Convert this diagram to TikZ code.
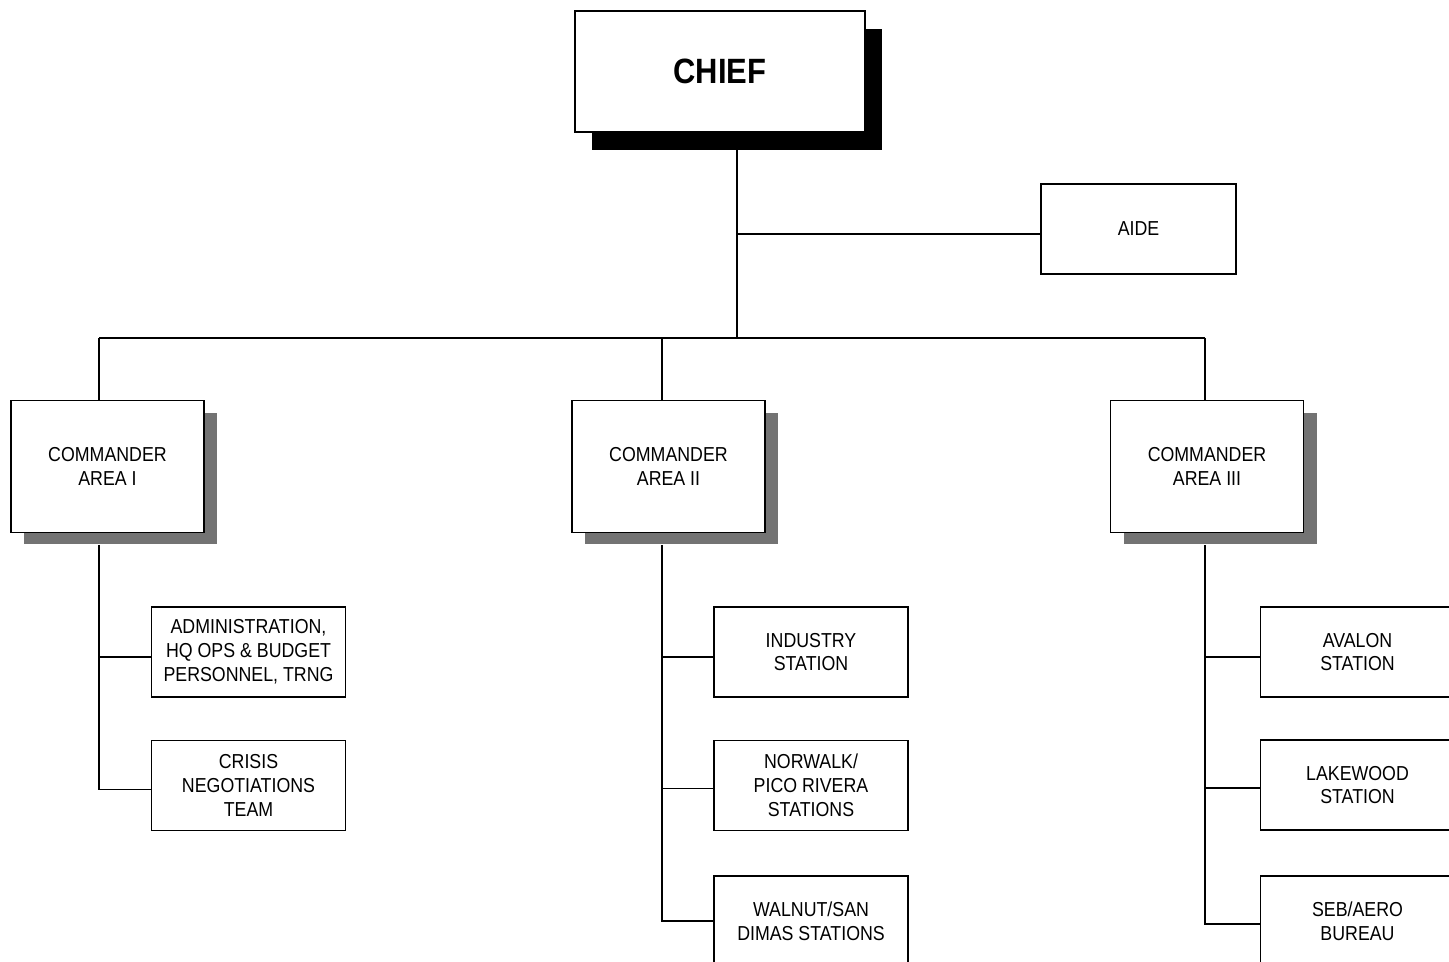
\documentclass[tikz,border=0pt]{standalone}
\usepackage{fontspec}
\newfontfamily\orgfont[FakeStretch=0.88]{Liberation Sans}
\usepackage{tikz}
\usetikzlibrary{calc,positioning}

\begin{document}
\begin{tikzpicture}[x=0.02cm,y=-0.02cm,
		box/.style={draw,line width=1pt,fill=white,inner sep=0pt,align=center,
			font=\orgfont\fontsize{11.5}{13.6}\selectfont},
		cmdbox/.style={box,minimum width=3.86cm,minimum height=2.64cm},
		cmdshade/.style={fill=black!55,minimum width=3.86cm,minimum height=2.64cm,inner sep=0pt},
		unitbox/.style={box,minimum width=3.88cm,minimum height=1.8cm},
		link/.style={line width=0.8pt}]
				\useasboundingbox (0,0) rectangle (1449,962);
				\clip (0,0) rectangle (1449,962);
				\fill[white] (0,0) rectangle (1449,962);
				\node[fill=black,minimum width=5.8cm,minimum height=2.42cm,inner sep=0pt] (chiefsh) at (737,89.5) {};
				\node[box,minimum width=5.8cm,minimum height=2.42cm,font=\orgfont\bfseries\fontsize{20}{24}\selectfont] (chief) at (720,71.5) {CHIEF};
				\node[box,minimum width=3.9cm,minimum height=1.8cm] (aide) at (1138.5,229) {AIDE};
				\coordinate (busL) at (99,338);
				\coordinate (busM) at (662,338);
				\coordinate (busR) at (1205,338);
				\node[cmdshade] (cmdIsh) at (120.5,478.5) {};
				\node[cmdbox] (cmdI) at (107.5,466.5) {COMMANDER\\AREA I};
				\node[cmdshade] (cmdIIsh) at (681.5,478.5) {};
				\node[cmdbox] (cmdII) at (668.5,466.5) {COMMANDER\\AREA II};
				\node[cmdshade] (cmdIIIsh) at (1220,478.5) {};
				\node[cmdbox] (cmdIII) at (1207,466.5) {COMMANDER\\AREA III};
				\node[unitbox] (admin) at (248.5,652) {ADMINISTRATION,\\HQ OPS \& BUDGET\\PERSONNEL, TRNG};
				\node[unitbox] (crisis) at (248.5,785.5) {CRISIS\\NEGOTIATIONS\\TEAM};
				\node[unitbox] (industry) at (811,652) {INDUSTRY\\STATION};
				\node[unitbox] (norwalk) at (811,785.5) {NORWALK/\\PICO RIVERA\\STATIONS};
				\node[unitbox] (walnut) at (811,921) {WALNUT/SAN\\DIMAS STATIONS};
				\node[unitbox] (avalon) at (1357.5,652) {AVALON\\STATION};
				\node[unitbox] (lakewood) at (1357.5,785) {LAKEWOOD\\STATION};
				\node[unitbox] (seb) at (1357.5,921) {SEB/AERO\\BUREAU};
				\draw[link] (chiefsh.south) to (chiefsh.south |- busL);
				\draw[link] ($(aide.west)+(0,5)$) to ($(aide.west -| chiefsh.south)+(0,5)$);
				\draw[link] (busL) to (busR);
				\draw[link] (busL) to (busL |- cmdI.north);
				\draw[link] (busM) to (busM |- cmdII.north);
				\draw[link] (busR) to (busR |- cmdIII.north);
				\draw[link] (busL |- cmdIsh.south) to ($(busL |- crisis.west)+(0,4)$) to ($(crisis.west)+(0,4)$);
				\draw[link] ($(busL |- admin.west)+(0,5)$) to ($(admin.west)+(0,5)$);
				\draw[link] (busM |- cmdIIsh.south) to (busM |- walnut.west) to (walnut.west);
				\draw[link] ($(busM |- industry.west)+(0,5)$) to ($(industry.west)+(0,5)$);
				\draw[link] ($(busM |- norwalk.west)+(0,3)$) to ($(norwalk.west)+(0,3)$);
				\draw[link] (busR |- cmdIIIsh.south) to ($(busR |- seb.west)+(0,3)$) to ($(seb.west)+(0,3)$);
				\draw[link] ($(busR |- avalon.west)+(0,5)$) to ($(avalon.west)+(0,5)$);
				\draw[link] ($(busR |- lakewood.west)+(0,3)$) to ($(lakewood.west)+(0,3)$);
	\end{tikzpicture}
\end{document}
